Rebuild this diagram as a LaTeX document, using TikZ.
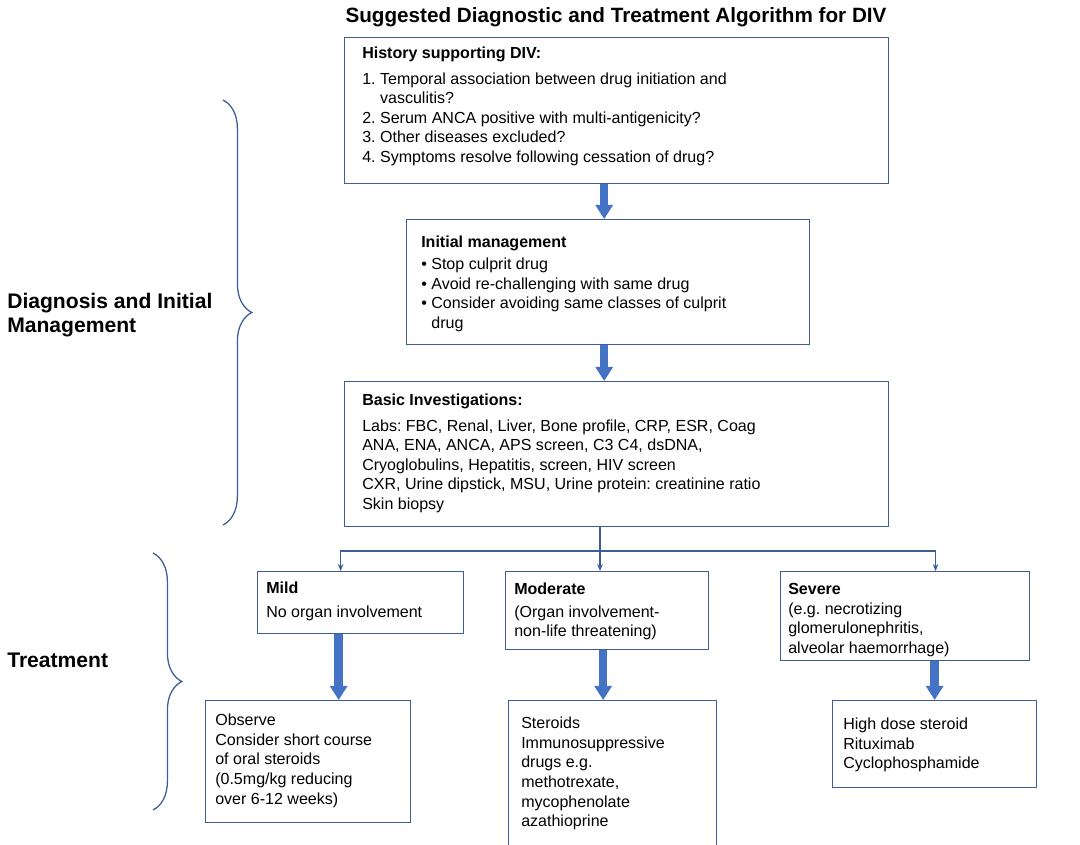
\documentclass[tikz,border=0pt]{standalone}
\usepackage{fontspec}
\setmainfont{Liberation Sans}
\usetikzlibrary{arrows.meta,positioning,decorations.pathreplacing}
\definecolor{boxblue}{RGB}{62,92,150}
\definecolor{arrowblue}{RGB}{68,114,196}
\newcommand{\bodyfont}{\fontsize{11.4}{13.9}\selectfont}
\frenchspacing

\begin{document}
\begin{tikzpicture}[x=0.025cm, y=-0.025cm,
    box/.style={draw=boxblue, line width=0.9pt, anchor=north west, inner sep=0pt},
    txt/.style={anchor=north west, inner sep=0pt, align=left, font=\bodyfont},
    fatarrow/.style={draw=arrowblue, line width=6pt, -{Triangle[width=0.42cm, length=0.35cm]}},
    thinarrow/.style={draw=boxblue, line width=0.9pt, -{Stealth[length=5pt, width=4pt]}},
    brace/.style={draw=boxblue, line width=0.9pt, decorate, decoration={brace, amplitude=0.72cm}}]
    \useasboundingbox (0,0) rectangle (1080,845);
    \clip (0,0) rectangle (1080,845);

    % Title and side labels
    \node[font=\fontsize{14.7}{17}\selectfont\bfseries] (title) at (616,17) {Suggested Diagnostic and Treatment Algorithm for DIV};
    \node[anchor=west, inner sep=0pt, align=left, font=\fontsize{15}{17}\selectfont\bfseries] (diaglabel) at (7,315) {Diagnosis and Initial\\Management};
    \node[anchor=west, inner sep=0pt, font=\fontsize{15}{17}\selectfont\bfseries] (treatlabel) at (7,660) {Treatment};

    % Diagnosis boxes
    \node[box, minimum width=13.6cm, minimum height=3.65cm] (hist) at (344,37) {};
    \node[txt] (histtext) at ([shift={(18,10)}]hist.north west) {\textbf{History supporting DIV:}\\[4pt]
        1. Temporal association between drug initiation and\\
        \phantom{1. }vasculitis?\\
        2. Serum ANCA positive with multi-antigenicity?\\
        3. Other diseases excluded?\\
        4. Symptoms resolve following cessation of drug?};

    \node[box, minimum width=10.075cm, minimum height=3.125cm] (init) at (406,219) {};
    \node[txt] (inittext) at ([shift={(15,16.5)}]init.north west) {\textbf{Initial management}\\[2pt]
        \textbullet\ Stop culprit drug\\
        \textbullet\ Avoid re-challenging with same drug\\
        \textbullet\ Consider avoiding same classes of culprit\\
        \phantom{\textbullet\ }drug};

    \node[box, minimum width=13.6cm, minimum height=3.625cm] (basic) at (344,381) {};
    \node[txt] (basictext) at ([shift={(18,13)}]basic.north west) {\textbf{Basic Investigations:}\\[4pt]
        Labs: FBC, Renal, Liver, Bone profile, CRP, ESR, Coag\\
        ANA, ENA, ANCA, APS screen, C3 C4, dsDNA,\\
        Cryoglobulins, Hepatitis, screen, HIV screen\\
        CXR, Urine dipstick, MSU, Urine protein: creatinine ratio\\
        Skin biopsy};

    % Severity boxes
    \node[box, minimum width=5.15cm, minimum height=1.55cm] (mild) at (257,571) {};
    \node[txt] (mildtext) at ([shift={(9,11)}]mild.north west) {\textbf{Mild}\\[3pt]No organ involvement};

    \node[box, minimum width=5.075cm, minimum height=1.95cm] (moderate) at (505,571) {};
    \node[txt] (moderatetext) at ([shift={(9,12)}]moderate.north west) {\textbf{Moderate}\\[2pt](Organ involvement-\\non-life threatening)};

    \node[box, minimum width=6.225cm, minimum height=2.225cm] (severe) at (780,571) {};
    \node[txt] (severetext) at ([shift={(8,12)}]severe.north west) {\textbf{Severe}\\(e.g. necrotizing\\glomerulonephritis,\\alveolar haemorrhage)};

    % Treatment boxes
    \node[box, minimum width=5.125cm, minimum height=3.05cm] (observe) at (205,700) {};
    \node[txt] (observetext) at ([shift={(10,14)}]observe.north west) {Observe\\Consider short course\\of oral steroids\\(0.5mg/kg reducing\\over 6-12 weeks)};

    \node[box, minimum width=5.2cm, minimum height=4.5cm] (steroids) at (508,700) {};
    \node[txt] (steroidstext) at ([shift={(13,17)}]steroids.north west) {Steroids\\Immunosuppressive\\drugs e.g.\\methotrexate,\\mycophenolate\\azathioprine};

    \node[box, minimum width=5.1cm, minimum height=2.175cm] (high) at (832,700) {};
    \node[txt] (hightext) at ([shift={(11,18)}]high.north west) {High dose steroid\\Rituximab\\Cyclophosphamide};

    % Block arrows
    \draw[fatarrow] ([xshift=-0.1cm]init.north |- hist.south) -- ([xshift=-0.1cm]init.north);
    \draw[fatarrow] ([xshift=-0.1cm]init.south) -- ([xshift=-0.1cm]init.south |- basic.north);
    \draw[fatarrow] ([xshift=-0.55cm]mild.south) -- ([xshift=-0.55cm]mild.south |- observe.north);
    \draw[fatarrow] ([xshift=-0.1cm]moderate.south) -- ([xshift=-0.1cm]moderate.south |- steroids.north);
    \draw[fatarrow] (high.north |- severe.south) -- (high.north);

    % Split to severity
    \coordinate (split) at (600,551);
    \draw[boxblue, line width=0.9pt] (basic.south -| split) -- (split);
    \draw[thinarrow] (split) -| ([xshift=-0.5cm]mild.north);
    \draw[thinarrow] (split) -- (split |- moderate.north);
    \draw[thinarrow] (split) -| ([xshift=0.76cm]severe.north);

    % Braces
    \draw[brace] (223,100) -- (223,525);
    \draw[brace] (153,553) -- (153,810);
\end{tikzpicture}
\end{document}
